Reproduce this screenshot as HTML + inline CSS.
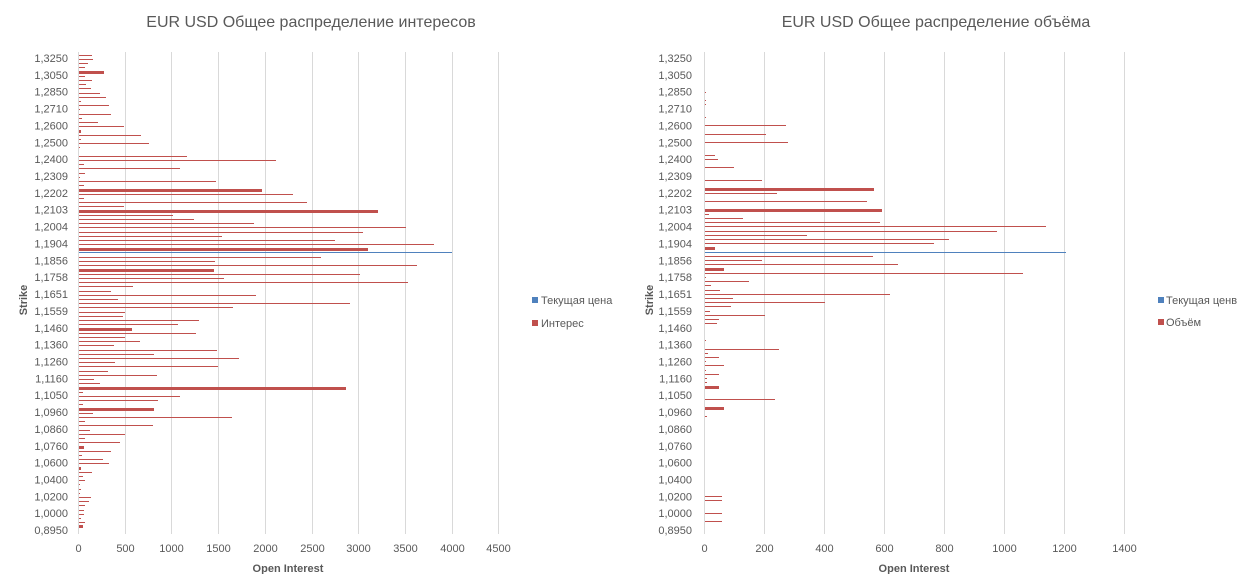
<!DOCTYPE html>
<html><head><meta charset="utf-8"><style>
html,body{margin:0;padding:0;background:#fff}
svg{display:block;font-family:"Liberation Sans","DejaVu Sans",sans-serif}
</style></head><body>
<svg id="s" width="1249" height="574" xmlns="http://www.w3.org/2000/svg">
<text x="311" y="27" text-anchor="middle" font-size="16" fill="#595959">EUR USD Общее распределение интересов</text>
<text x="936" y="27" text-anchor="middle" font-size="16" fill="#595959">EUR USD Общее распределение объёма</text>
<text transform="translate(27,300) rotate(-90)" text-anchor="middle" font-size="11" font-weight="bold" fill="#595959">Strike</text>
<text transform="translate(653,300) rotate(-90)" text-anchor="middle" font-size="11" font-weight="bold" fill="#595959">Strike</text>
<text x="288" y="572" text-anchor="middle" font-size="11" font-weight="bold" fill="#595959">Open Interest</text>
<text x="914" y="572" text-anchor="middle" font-size="11" font-weight="bold" fill="#595959">Open Interest</text>
<rect x="532" y="297" width="6" height="6" fill="#4F81BD"/>
<text x="541" y="304" font-size="11" fill="#595959">Текущая цена</text>
<rect x="532" y="320" width="6" height="6" fill="#C0504D"/>
<text x="541" y="327" font-size="11" fill="#595959">Интерес</text>
<rect x="1158" y="297" width="6" height="6" fill="#4F81BD"/>
<text x="1166" y="304" font-size="11" fill="#595959">Текущая ценв</text>
<rect x="1158" y="319" width="6" height="6" fill="#C0504D"/>
<text x="1166" y="326" font-size="11" fill="#595959">Объём</text>
<g id="g" shape-rendering="crispEdges"></g>
</svg>
<script>
var NS="http://www.w3.org/2000/svg",g=document.getElementById('g');
function el(t,a,txt){var e=document.createElementNS(NS,t);for(var k in a)e.setAttribute(k,a[k]);if(txt)e.textContent=txt;g.appendChild(e);}
var labs=["1,3250","1,3050","1,2850","1,2710","1,2600","1,2500","1,2400","1,2309","1,2202","1,2103","1,2004","1,1904","1,1856","1,1758","1,1651","1,1559","1,1460","1,1360","1,1260","1,1160","1,1050","1,0960","1,0860","1,0760","1,0600","1,0400","1,0200","1,0000","0,8950"];
for(var i=0;i<=9;i++){var x=Math.round(78+i*46.7);el('rect',{x:x,y:52,width:1,height:482,fill:'#d9d9d9'});
 el('text',{x:x+0.5,y:552,'text-anchor':'middle','font-size':11,fill:'#595959'},String(i*500));}
for(var i=0;i<=7;i++){var x=704+i*60;el('rect',{x:x,y:52,width:1,height:482,fill:'#d9d9d9'});
 el('text',{x:x+0.5,y:552,'text-anchor':'middle','font-size':11,fill:'#595959'},String(i*200));}
for(var i=0;i<labs.length;i++){var y=58+i*16.86+4;
 el('text',{x:68,y:y,'text-anchor':'end','font-size':11,fill:'#595959'},labs[i]);
 el('text',{x:692,y:y,'text-anchor':'end','font-size':11,fill:'#595959'},labs[i]);}
var L=[[55,92],[59,93],[63,88],[67,85],[72,104,1],[76,85],[80,92],[84,86],[88,91],[93,100],[97,106],[101,81],[105,109],[109,80],[114,111],[118,82],[122,98],[126,124],[131,81,1],[135,141],[139,81],[143,149],[147,80],
[156,187],[160,276],[164,84],[168,180],[173,85],[177,80],[181,216],[185,84],[190,262,1],[194,293],[198,84],[202,307],[206,124],[211,378,1],[215,173],[219,194],[223,254],[227,406],[232,363],[236,222],[240,335],[244,434],[249,368,1],[257,321],[261,215],[265,417],[270,214,1],[274,360],[278,224],[282,408],[286,133],[291,111],[295,256],[299,118],[303,350],[307,233],[312,125],[316,123],[320,199],[324,178],[329,132,1],[333,196],[337,125],[341,140],[345,114],[350,217],[354,154],[358,239],[362,115],[366,218],[371,108],[375,157],[379,94],[383,100],[388,346,1],[392,83],[396,180],[400,158],[404,83],[409,154,1],[413,93],[417,232],[421,85],[425,153],[430,90],[434,125],[438,85],[442,120],[447,84,1],[451,111],[455,82],[459,103],[463,109],[468,81,1],[472,92],[476,83],[480,85],[484,80],[489,81],[493,80],[497,91],[501,89],[505,85],[510,84],[514,84],[518,81],[522,85],[526,83,1]];
var R=[[92,706],[100,706],[104,706],[117,706],[125,786],[134,766],[142,788],[155,715],[159,718],[167,734],[180,762],[189,874,1],[193,777],[201,867],[210,882,1],[214,709],[218,743],[222,880],[226,1046],[231,997],[235,807],[239,949],[243,934],[248,715,1],[256,873],[260,762],[264,898],[269,724,1],[273,1023],[277,706],[281,749],[285,711],[290,720],[294,890],[298,733],[302,825],[306,731],[311,710],[315,765],[319,719],[323,717],[340,706],[349,779],[353,708],[357,719],[361,706],[365,724],[370,706],[374,719],[378,707],[382,707],[387,719,1],[399,775],[408,724,1],[416,707],[496,722],[500,722],[513,722],[521,722]];
function bars(D,x0){D.forEach(function(d){var h=d[2]?3:1;var y=d[2]?d[0]-1:d[0];el('rect',{x:x0,y:y,width:Math.max(Math.round(d[1]-x0),1),height:h,fill:'#C0504D'});});}
bars(L,79);bars(R,705);
el('rect',{x:79,y:252,width:373,height:1,fill:'#4F81BD'});
el('rect',{x:705,y:252,width:361,height:1,fill:'#4F81BD'});
</script>
</body></html>
